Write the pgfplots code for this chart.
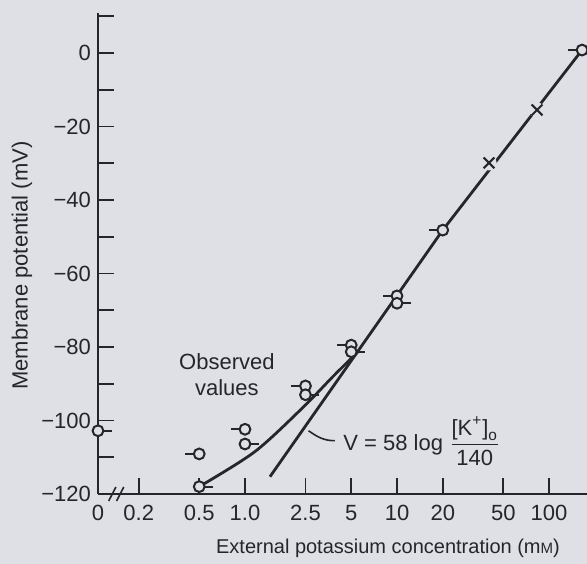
\documentclass[border=0pt]{standalone}
\usepackage{fontspec}
\setmainfont{Liberation Sans}
\usepackage{amsmath}
\usepackage{pgfplots}
\pgfplotsset{compat=1.18}
\usetikzlibrary{backgrounds,calc}

\definecolor{bg}{RGB}{222,224,230}
\definecolor{ink}{RGB}{38,38,42}

% open circle with a short dash on the left / right
\pgfdeclareplotmark{ocl}{%
  \pgfpathmoveto{\pgfpoint{-7pt}{0pt}}\pgfpathlineto{\pgfpoint{-2.7pt}{0pt}}\pgfusepathqstroke
  \pgfpathcircle{\pgfpointorigin}{2.7pt}\pgfusepathqfillstroke}
\pgfdeclareplotmark{ocr}{%
  \pgfpathmoveto{\pgfpoint{7pt}{0pt}}\pgfpathlineto{\pgfpoint{2.7pt}{0pt}}\pgfusepathqstroke
  \pgfpathcircle{\pgfpointorigin}{2.7pt}\pgfusepathqfillstroke}
% cross that cuts a small gap in the line
\pgfdeclareplotmark{gx}{%
  \pgfpathcircle{\pgfpointorigin}{3.8pt}\pgfusepathqfill
  \pgfpathmoveto{\pgfpoint{-2.7pt}{-2.7pt}}\pgfpathlineto{\pgfpoint{2.7pt}{2.7pt}}
  \pgfpathmoveto{\pgfpoint{-2.7pt}{2.7pt}}\pgfpathlineto{\pgfpoint{2.7pt}{-2.7pt}}\pgfusepathqstroke}

\newcommand{\txt}{\fontsize{11}{13}\selectfont}

\begin{document}
\begin{tikzpicture}
\begin{axis}[
  scale only axis, width=244.5pt, height=240.35pt,
  xmode=log, xmin=0.1079, xmax=177.8,
  ymin=-120, ymax=10.8,
  axis x line=bottom, axis y line=left,
  axis line style={-, draw=ink, line width=1pt},
  xtick={0.2,0.5,1,2.5,5,10,20,50,100},
  xticklabels={0.2,0.5,1.0,2.5,5,10,20,50,100},
  extra x ticks={0.1079}, extra x tick labels={0},
  extra x tick style={tick style={draw=none}},
  ytick={-120,-100,-80,-60,-40,-20,0},
  yticklabels={−120,−100,−80,−60,−40,−20,0},
  minor ytick={-110,-90,-70,-50,-30,-10,10},
  tick align=inside, major tick length=8pt, minor tick length=8pt,
  tick style={draw=ink, line width=0.9pt},
  every tick label/.append style={font=\txt, text=ink},
  xticklabel style={yshift=-2pt},
  xlabel={External potassium concentration (m{\fontsize{7.5}{9}\selectfont M})},
  ylabel={Membrane potential (mV)},
  every axis x label/.style={at={(axis description cs:0.593,0)}, yshift=-27pt, anchor=center, font=\fontsize{10}{12}\selectfont, text=ink},
  every axis y label/.style={at={(axis description cs:0,0.475)}, xshift=-38pt, rotate=90, anchor=center, font=\txt, text=ink},
  clip=false,
]
\coordinate (sw) at (rel axis cs:0,0);
\coordinate (ne) at (rel axis cs:1,1);

% V = 58 log([K]/140), as drawn
\addplot[ink, line width=1.4pt] coordinates {(1.46,-115.3) (20,-48.2) (170,1.5)};
% observed curve
\addplot[ink, line width=1.4pt, smooth] coordinates {(0.5,-118) (1.16,-108.5) (2.4,-96.5) (3.8,-88) (5.5,-81.4)};

\addplot[only marks, mark=ocl, mark options={draw=ink, fill=bg, line width=1pt}]
  coordinates {(0.5,-109.1) (1.0,-102.4) (2.5,-90.6) (5,-79.5) (10,-66.1) (20,-48.2) (165,0.8)};
\addplot[only marks, mark=ocr, mark options={draw=ink, fill=bg, line width=1pt}]
  coordinates {(0.1079,-102.8) (0.5,-118) (1.0,-106.4) (2.5,-93) (5,-81.3) (10,-68.1)};
\addplot[only marks, mark=gx, mark options={draw=ink, fill=bg, line width=1pt}]
  coordinates {(40.3,-29.9) (83.4,-15.5)};

\node[font=\txt, text=ink, align=center] at (axis cs:0.76,-87.6) {Observed\\values};
\draw[ink, line width=0.8pt] (axis cs:2.62,-102.8) to[out=-35,in=180] (axis cs:3.9,-105.5);
\node[anchor=west, text=ink, font=\txt, inner sep=0pt] at (axis cs:4.41,-105.6)
  {V = 58 log $\dfrac{\text{[K}^{\text{+}}\text{]}_{\text{o}}}{\text{140}}$};

% axis break
\draw[ink, line width=0.8pt] ([shift={(-1.8pt,-3.5pt)}]axis cs:0.134,-120) -- ++(3.6pt,7pt);
\draw[ink, line width=0.8pt] ([shift={(-1.8pt,-3.5pt)}]axis cs:0.151,-120) -- ++(3.6pt,7pt);
\end{axis}
\pgfresetboundingbox
\path[use as bounding box] ($(sw)+(-49pt,-35pt)$) rectangle ($(ne)+(0pt,6.65pt)$);
\begin{scope}[on background layer]
  \fill[bg] ($(sw)+(-49pt,-35pt)$) rectangle ($(ne)+(0pt,6.65pt)$);
\end{scope}
\end{tikzpicture}
\end{document}
